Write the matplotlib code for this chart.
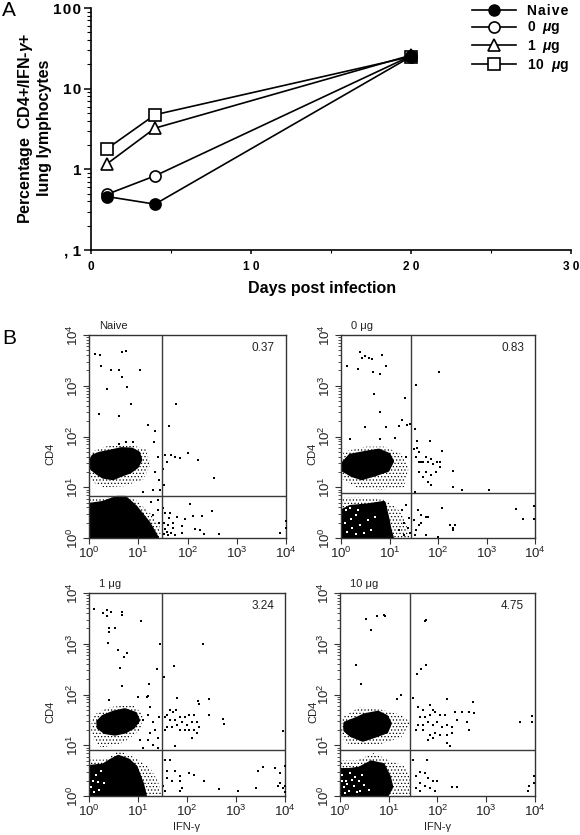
"""
Percentage of CD4+/IFN-g+ lung lymphocytes after infection, and the flow plots behind it
"""

import matplotlib
matplotlib.use('Agg')
import matplotlib.pyplot as plt
from matplotlib.lines import Line2D
import numpy as np

plt.rcParams['font.family'] = ['Liberation Sans', 'DejaVu Sans']
plt.rcParams['mathtext.fontset'] = 'custom'
plt.rcParams['mathtext.rm'] = 'Liberation Sans'
plt.rcParams['mathtext.it'] = 'Liberation Sans:italic:bold'
plt.rcParams['mathtext.bf'] = 'Liberation Sans:bold'
plt.rcParams['hatch.linewidth'] = 0.5

W, H = 580, 835

# panel A
days = [1, 4, 20]
naive = [0.46, 0.37, 25]
ug0 = [0.49, 0.83, 25.5]
ug1 = [1.17, 3.24, 26]
ug10 = [1.8, 4.75, 25]
series_names = ['N\u200aa\u200ai\u200av\u200ae', '0  $\\mathit{\\mu}$g', '1  $\\mathit{\\mu}$g', '1\u200a0  $\\mathit{\\mu}$g']
day_ticks = [0, 10, 20, 30]
day_labels = ['0', '1 0', '2 0', '3 0']
pct_ticks = [0.1, 1, 10, 100]
pct_labels = [', 1', '1', '1\u200a0', '1\u200a0\u200a0']

# panel B, everything in decades (log10 of the channel)
titles = ['Naive', '0 μg', '1 μg', '10 μg']
quadrant_pct = ['0.37', '0.83', '3.24', '4.75']
gate_x = [1.48, 1.44, 1.48, 1.44]
gate_y = [0.83, 0.89, 0.91, 0.91]

# dense populations: core outline and the looser halo round it
naive_up = [[.03, .09, .22, .43, .66, .87, 1.0, 1.04, .97, .83, .66, .49, .29, .16, .05], [1.51, 1.61, 1.66, 1.7, 1.75, 1.74, 1.67, 1.54, 1.41, 1.31, 1.25, 1.18, 1.21, 1.29, 1.38]]
naive_up_halo = [[.0, .05, .4, .8, 1.15, 1.25, 1.1, .7, .3, .08], [1.3, 1.7, 1.82, 1.85, 1.75, 1.45, 1.15, 1.02, 1.0, 1.1]]
naive_low = [[0, 0, .28, .57, .73, .94, 1.2, 1.38], [0, .65, .69, .79, .79, .61, .30, 0]]
naive_low_halo = [[0, 0, .3, .65, .95, 1.25, 1.44, 1.46], [0, .78, .78, .85, .75, .48, .22, 0]]

ug0_up = [[.05, .19, .47, .78, .98, 1.05, .96, .71, .43, .23, .05], [1.47, 1.62, 1.67, 1.72, 1.64, 1.51, 1.34, 1.26, 1.18, 1.24, 1.34]]
ug0_up_halo = [[0, .05, .5, .9, 1.25, 1.4, 1.3, .8, .3, .05], [1.3, 1.7, 1.8, 1.8, 1.65, 1.4, 1.0, .95, 1.0, 1.15]]
ug0_low = [[0, 0, .19, .54, .88, .96, 1.0, 1.05], [0, .52, .61, .64, .69, .36, .16, 0]]
ug0_low_halo = [[0, 0, .4, .9, 1.15, 1.3, 1.4, 1.45], [0, .8, .8, .75, .6, .4, .1, 0]]

ug1_up = [[.19, .29, .5, .73, .94, 1.0, .9, .73, .53, .33, .2], [1.46, 1.56, 1.64, 1.69, 1.62, 1.49, 1.36, 1.27, 1.23, 1.26, 1.35]]
ug1_up_halo = [[.03, .1, .4, .9, 1.1, 1.05, .7, .25, .1], [1.35, 1.6, 1.75, 1.8, 1.6, 1.3, 1.05, .95, 1.1]]
ug1_low = [[0, 0, .29, .46, .6, .8, .95, 1.08, 1.14], [0, .57, .6, .7, .77, .7, .57, .24, 0]]
ug1_low_halo = [[0, 0, .35, .6, .95, 1.25, 1.4, 1.5], [0, .72, .72, .9, .75, .55, .3, 0]]

ug10_up = [[.11, .3, .51, .78, .95, 1.02, .95, .75, .47, .23, .11], [1.43, 1.5, 1.59, 1.64, 1.56, 1.43, 1.27, 1.2, 1.11, 1.2, 1.3]]
ug10_up_halo = [[.02, .05, .4, .85, 1.25, 1.45, 1.25, .75, .3, .1], [1.25, 1.55, 1.75, 1.7, 1.6, 1.45, 1.15, 1.0, 1.0, 1.05]]
ug10_low = [[0, 0, .2, .4, .64, .88, 1.0, 1.05, .95], [0, .51, .51, .54, .66, .61, .38, .18, 0]]
ug10_low_halo = [[0, 0, .35, .7, 1.0, 1.3, 1.44, 1.44], [0, .7, .7, .85, .7, .6, .4, 0]]

# single events
naive_dots_x = [.12, .22, .68, .75, .24, .44, .61, 1.04, .66, .77, .37, .85, .20, .61, 1.19, 1.34, 1.32, 1.63, 1.77, 2.02, 2.22, 2.53, 2.05, 2.11, 2.29, 2.49, 2.16, 2.26, 2.34, 2.63, 3.87, 3.99, 3.99,
                1.55, 1.67, 1.74, 1.85, 1.58, 1.5, 1.53, 1.55, 1.62, 1.7, 1.78, 1.55, 1.6, 1.66, 1.75, 1.88, 1.52, 1.6, 1.7, 1.88, 1.95, 1.5, 1.53, 1.58, 1.65,
                1.4, 1.35, 1.42, 1.45, 1.3, 1.1, .75, .9, .6, 1.25, 1.4, 1.3, 1.4, 1.42]
naive_dots_y = [3.63, 3.61, 3.67, 3.69, 3.38, 3.31, 3.31, 3.32, 3.18, 2.98, 2.93, 2.64, 2.45, 2.41, 2.22, 2.10, 1.90, 2.20, 2.64, 1.67, 1.54, 1.18, .67, .43, .43, .54, .18, .16, .07, .07, .10, .33, .20,
                1.63, 1.63, 1.60, 1.57, 1.5, 1.35, 1.05, .5, .4, .3, .42, .18, .25, .1, .05, .23, .08, .05, .2, .1, .38, .6, .3, .12, .5,
                1.6, 1.3, 1.15, .95, .95, .9, 1.9, 1.9, 1.85, .7, .55, .45, .75, .3]

ug0_dots_x = [.40, .43, .5, .57, .64, .84, .12, .36, .66, .8, .93, 2.03, 1.54, .69, 1.31, .8, .5, .93, 1.26, 1.2, 1.36, 1.43, 1.53, .19, .81, 1.12, 1.56, 1.83, 2.08,
              1.5, 1.56, 1.6, 1.55, 1.65, 1.75, 1.85, 1.9, 1.98, 2.05, 2.05, 1.6, 1.7, 1.8, 1.6, 1.7, 1.75, 1.85, 1.95, 1.8, 1.85, 2.3, 2.3, 2.5, 3.06, 1.53,
              2.08, 1.58, 1.65, 1.75, 1.8, 2.3, 2.3, 2.25, 2.35, 3.6, 3.75, 3.98, 3.98, 1.55, 1.6, 1.65, 1.52, 1.75, 2.0, 1.5,
              1.35, 1.4, 1.3, 1.2, 1.38, 1.25, 1.42, 1.3, 1.35]
ug0_dots_y = [3.67, 3.55, 3.58, 3.55, 3.52, 3.6, 3.39, 3.33, 3.27, 3.24, 3.38, 3.27, 3.01, 2.83, 2.76, 2.49, 2.18, 2.18, 2.32, 2.21, 2.23, 2.25, 2.14, 1.95, 1.96, 1.98, 1.92, 1.92, 1.72,
              1.75, 1.78, 1.7, 1.6, 1.5, 1.6, 1.55, 1.45, 1.5, 1.5, 1.4, 1.5, 1.5, 1.5, 1.3, 1.2, 1.3, 1.25, 1.3, 1.1, 1.05, 1.33, 1.0, .95, .95, .9,
              .6, .55, .45, .42, .42, .2, .15, .25, .26, .58, .38, .63, .38, .15, .25, .3, .05, .05, .02, .35,
              .65, .4, .3, .15, .2, .55, .1, .05, 1.6]

ug1_dots_x = [.1, .28, .37, .44, .36, .68, .68, 1.06, .41, .41, .54, .39, 1.44, 2.32, .59, .78, .71, .63, 1.38, 1.74, 1.54, .68, 1.23, .41, 1.0, 1.18, 1.21, 2.44, 2.22, 1.79, 2.24, 2.73, 2.76, 3.95, 2.45,
              1.55, 1.6, 1.65, 1.72, 1.78, 1.65, 1.75, 1.85, 1.95, 2.05, 2.15, 1.8, 1.9, 2.0, 2.1, 2.2, 2.25, 2.15, 2.05, 1.95, 1.85, 1.7, 1.6, 1.55, 2.1, 2.2, 1.75,
              1.1, 1.2, 1.3, 1.35, 1.25, 1.4, 1.2, 1.3, 1.05, 1.1, 1.4, 1.42, 1.25,
              1.55, 1.65, 1.6, 1.75, 1.85, 1.6, 1.7, 1.85, 2.05, 2.15, 1.5, 1.55, 1.85, 1.9, 2.35, 2.65, 3.05, 3.4, 3.45, 3.55, 3.8, 3.9, 4.0, 3.85, 3.9, 3.95, 4.0, 3.99]
ug1_dots_y = [3.69, 3.61, 3.66, 3.63, 3.55, 3.63, 3.57, 3.45, 3.32, 3.24, 3.32, 3.01, 2.99, 2.99, 2.87, 2.82, 2.73, 2.52, 2.5, 2.56, 2.34, 2.17, 2.2, 1.89, 1.96, 1.96, 1.98, 1.92, 1.87, 1.94, 1.82, 1.51, 1.41, 1.29, 1.59,
              1.55, 1.6, 1.7, 1.65, 1.7, 1.5, 1.5, 1.55, 1.55, 1.6, 1.6, 1.4, 1.45, 1.4, 1.45, 1.45, 1.35, 1.3, 1.3, 1.3, 1.3, 1.35, 1.35, 1.3, 1.15, 1.25, .98,
              1.5, 1.6, 1.45, 1.3, 1.25, 1.15, 1.1, 1.0, 1.1, .95, .95, 1.55, 1.75,
              .7, .7, .5, .5, .4, .35, .3, .3, .45, .42, .2, .1, .1, .15, .3, .13, .1, .15, .5, .57, .55, .45, .6, .2, .25, .15, .2, .08]

ug10_dots_x = [.53, .75, .9, .92, .64, 1.74, 1.76, .32, .44, 1.58, 1.67, 1.76, 1.16, 1.25, 1.49,
               1.6, 1.7, 1.85, 1.9, 1.65, 1.75, 1.85, 1.95, 2.05, 2.15, 1.7, 1.8, 1.9, 2.0, 2.1, 2.2, 2.3, 1.6, 1.55, 1.7, 1.85, 1.95, 2.05, 2.2, 2.3, 1.8, 1.9, 2.2, 2.25, 2.4, 2.5, 2.35, 2.72, 2.65, 2.75, 2.6, 2.65, 2.2,
               3.7, 3.93, 3.93,
               1.5, 1.55, 1.65, 1.75, 1.8, 1.9, 1.65, 1.75, 1.85, 1.95, 2.0, 1.55, 1.65, 1.78, 2.3, 2.4, 3.85, 3.87, 3.98, 3.98]
ug10_dots_y = [3.48, 3.54, 3.56, 3.55, 3.27, 3.45, 3.47, 2.58, 2.2, 2.41, 2.51, 2.58, 1.92, 1.99, 1.93,
               1.75, 1.7, 1.8, 1.7, 1.55, 1.55, 1.6, 1.65, 1.6, 1.6, 1.4, 1.45, 1.4, 1.45, 1.35, 1.4, 1.35, 1.4, 1.3, 1.3, 1.2, 1.25, 1.2, 1.2, 1.25, 1.1, 1.15, 1.05, .98, 1.5, 1.65, 1.65, 1.85, 1.65, 1.63, 1.45, 1.3, 1.92,
               1.45, 1.57, 1.45,
               .7, .4, .48, .45, .35, .3, .25, .2, .15, .1, .3, .15, .1, .7, .17, .17, .1, .2, .25, .4]

# white gaps showing through the lower population
ug0_gaps_x = [.1, .18, .3, .22, .4, .55, .12, .3, .48, .2, .62, .08, .35, .7]
ug0_gaps_y = [.55, .6, .45, .2, .25, .35, .12, .08, .1, .38, .15, .3, .55, .42]
ug1_gaps_x = [.08, .15, .2, .1, .3, .05, .25, .18]
ug1_gaps_y = [.3, .42, .12, .08, .25, .18, .5, .28]
ug10_gaps_x = [.05, .12, .2, .3, .08, .18, .28, .38, .1, .24, .42, .5, .15, .34, .05, .46, .6]
ug10_gaps_y = [.42, .3, .45, .38, .18, .1, .2, .3, .06, .32, .1, .22, .24, .08, .3, .42, .12]

uppers = [naive_up, ug0_up, ug1_up, ug10_up]
upper_halos = [naive_up_halo, ug0_up_halo, ug1_up_halo, ug10_up_halo]
lowers = [naive_low, ug0_low, ug1_low, ug10_low]
lower_halos = [naive_low_halo, ug0_low_halo, ug1_low_halo, ug10_low_halo]
dots = [(naive_dots_x, naive_dots_y), (ug0_dots_x, ug0_dots_y), (ug1_dots_x, ug1_dots_y), (ug10_dots_x, ug10_dots_y)]
gaps = [([], []), (ug0_gaps_x, ug0_gaps_y), (ug1_gaps_x, ug1_gaps_y), (ug10_gaps_x, ug10_gaps_y)]

# pixel boxes: left, top, right, bottom
boxes = [(89, 335, 286, 538), (341, 335, 535, 538), (89, 593, 285, 796), (340, 593, 535, 796)]
xlabels = [False, False, True, True]
cd4_px = [50, 312, 50, 313]

fig = plt.figure(figsize=(W / 100, H / 100), dpi=100)


def pixel_axes(left, top, right, bottom):
    return fig.add_axes([left / W, 1 - bottom / H, (right - left) / W, (bottom - top) / H])


# ---- A
ax = pixel_axes(91, 8, 571, 250)
ax.set_yscale('log')
ax.set_xlim(0, 30)
ax.set_ylim(0.1, 100)
style = dict(color='k', lw=1.2, mec='k', mew=1.2, clip_on=False)
ax.plot(days, ug10, marker='s', ms=8, mfc='w', zorder=3, **style)
ax.plot(days, ug1, marker='^', ms=9, mfc='w', zorder=4, **style)
ax.plot(days, ug0, marker='o', ms=8, mfc='w', zorder=5, **style)
ax.plot(days, naive, marker='o', ms=8, mfc='k', zorder=6, **style)
ax.spines['top'].set_visible(False)
ax.spines['right'].set_visible(False)
ax.spines['left'].set_linewidth(1.2)
ax.spines['bottom'].set_linewidth(1.2)
ax.set_xticks(day_ticks)
ax.set_xticklabels(day_labels, fontsize=8.5, fontweight='bold')
ax.set_xticks([5, 15, 25], minor=True)
ax.set_yticks(pct_ticks)
ax.set_yticklabels(pct_labels, fontsize=11, fontweight='bold')
ax.tick_params(axis='y', which='major', length=5, width=1.1, pad=2)
ax.tick_params(axis='y', which='minor', length=3, width=0.8, labelleft=False)
ax.tick_params(axis='x', which='major', length=3, width=1.1, pad=5)
ax.tick_params(axis='x', which='minor', length=2, width=0.8)
fig.text(322 / W, 1 - 288 / H, 'Days post infection', fontsize=11.5, fontweight='bold', ha='center', va='center')
fig.text(34 / W, 1 - 128 / H, 'Percentage  CD4+/IFN-$\\mathit{\\gamma}$+\nlung lymphocytes', fontsize=11.5, fontweight='bold',
         rotation=90, ha='center', va='center', linespacing=1.1)

handles = [Line2D([], [], color='k', lw=1.2, marker='o', ms=8, mfc='k', mec='k'),
           Line2D([], [], color='k', lw=1.2, marker='o', ms=8, mfc='w', mec='k', mew=1.2),
           Line2D([], [], color='k', lw=1.2, marker='^', ms=9, mfc='w', mec='k', mew=1.2),
           Line2D([], [], color='k', lw=1.2, marker='s', ms=8, mfc='w', mec='k', mew=1.2)]
fig.legend(handles, series_names, loc='upper left', bbox_to_anchor=(469 / W, 1 - 1 / H), frameon=False,
           prop=dict(weight='bold', size=10), handlelength=3.2, labelspacing=0.12, handletextpad=0.75, borderpad=0.2, borderaxespad=0)

fig.text(2 / W, 1 - 10 / H, 'A', fontsize=15, ha='left', va='center')
fig.text(2 / W, 1 - 338 / H, 'B', fontsize=15, ha='left', va='center')

# ---- B
for i in range(4):
    left, top, right, bottom = boxes[i]
    ax = pixel_axes(left, top, right, bottom)
    ax.set_xscale('log')
    ax.set_yscale('log')
    ax.set_xlim(1, 1e4)
    ax.set_ylim(1, 1e4)
    for halo in (upper_halos[i], lower_halos[i]):
        ax.fill(np.power(10.0, halo[0]), np.power(10.0, halo[1]), facecolor='none', edgecolor='k', hatch='.....', lw=0, zorder=1)
    for core in (uppers[i], lowers[i]):
        ax.fill(np.power(10.0, core[0]), np.power(10.0, core[1]), color='k', lw=3, joinstyle='round', zorder=2)
    ax.scatter(np.power(10.0, gaps[i][0]), np.power(10.0, gaps[i][1]), s=1.0, color='w', marker='s', lw=0, zorder=3)
    ax.scatter(np.power(10.0, dots[i][0]), np.power(10.0, dots[i][1]), s=0.55, color='k', marker='s', lw=0, zorder=3)
    ax.axvline(10 ** gate_x[i], color='#3a3a3a', lw=1.0, zorder=4)
    ax.axhline(10 ** gate_y[i], color='#3a3a3a', lw=1.0, zorder=4)
    for s in ax.spines.values():
        s.set_linewidth(1.0)
        s.set_color('#333333')
    ax.set_xticks([1, 10, 100, 1000, 10000])
    ax.set_yticks([1, 10, 100, 1000, 10000])
    ax.set_xticklabels(['$\\mathregular{10^{%d}}$' % k for k in range(5)], fontsize=9.5, color='#222222')
    ax.set_yticklabels(['$\\mathregular{10^{%d}}$' % k for k in range(5)], fontsize=9.5, color='#222222', rotation=90, va='center')
    ax.tick_params(which='major', length=4, width=0.8, pad=1.5, color='#333333')
    ax.tick_params(which='minor', length=2, width=0.6, color='#333333')
    ax.text(0.944, 0.936, quadrant_pct[i], transform=ax.transAxes, fontsize=8.5, ha='right', va='center', color='#222222')
    fig.text((left + 10) / W, 1 - (top - 9) / H, titles[i], fontsize=8, ha='left', va='center', color='#222222')
    fig.text(cd4_px[i] / W, 1 - (top + 119) / H, 'CD4', fontsize=8, rotation=90, ha='center', va='center', color='#222222')
    if xlabels[i]:
        fig.text((left + right) / 2 / W, 1 - 827 / H, 'IFN-γ', fontsize=8, ha='center', va='center', color='#222222')

fig.savefig('out.png', dpi=100)
